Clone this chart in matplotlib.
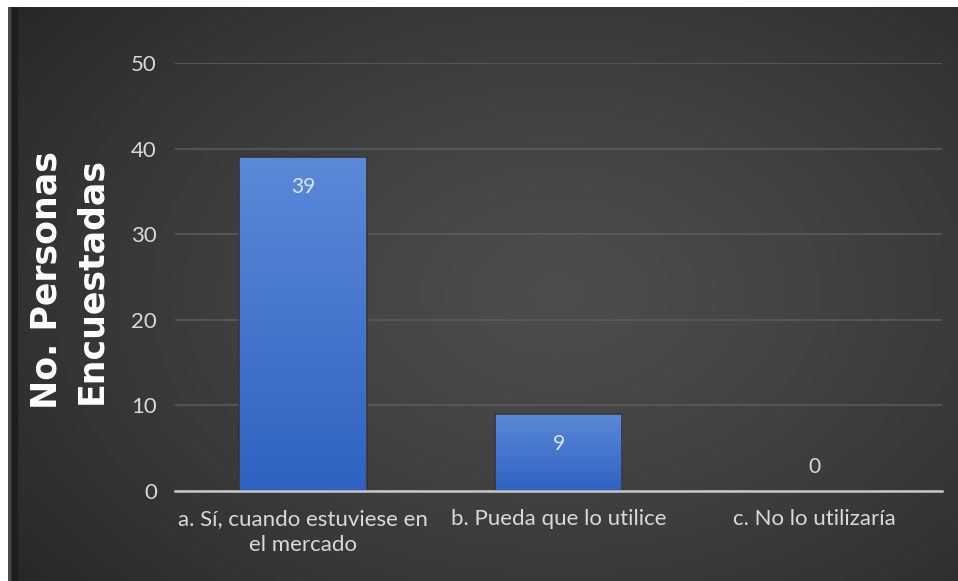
import matplotlib.pyplot as plt
import numpy as np
from matplotlib.patches import Rectangle

# DATOS
categorias = ["a. Sí, cuando estuviese en\nel mercado", "b. Pueda que lo utilice", "c. No lo utilizaría"]
valores = [39, 9, 0]
ticks_y = [0, 10, 20, 30, 40, 50]
etiqueta_y = "No. Personas\nEncuestadas"

W, H = 958, 581
fig = plt.figure(figsize=(W / 100, H / 100), dpi=100)
fig.patch.set_facecolor("white")

# fondo oscuro con degradado radial
fondo = fig.add_axes([8 / W, 0, (W - 8) / W, (H - 7) / H])
fondo.set_axis_off()
yy, xx = np.mgrid[0:1:300j, 0:1:500j]
d = np.sqrt(((xx - 0.58) / 0.75) ** 2 + ((yy - 0.5) / 0.85) ** 2)
d = np.clip(d, 0, 1)
gris = 0.30 - 0.15 * d ** 1.3
fondo.imshow(np.dstack([gris, gris, gris]), aspect="auto", extent=[0, 1, 0, 1])
fondo.add_patch(Rectangle((0, 0), 0.009, 1, color="#1f1f1f", transform=fondo.transAxes))
fondo.add_patch(Rectangle((0, 0), 0.002, 1, color="#4a4a4a", transform=fondo.transAxes))

# GRAFICO
ax = fig.add_axes([175 / W, 90 / H, 767 / W, 428 / H])
ax.patch.set_alpha(0)
x = np.arange(len(categorias))
barras = ax.bar(x, valores, width=0.5, color="none", edgecolor="#3b3434", linewidth=1.2, zorder=3)

grad = np.linspace(0, 1, 256).reshape(-1, 1)
top = np.array([0x5c, 0x89, 0xd8]) / 255
bot = np.array([0x2f, 0x62, 0xc2]) / 255
img = top * (1 - grad[..., None]) + bot * grad[..., None]
img = img.reshape(256, 1, 3)
for b in barras:
    if b.get_height() <= 0:
        continue
    im = ax.imshow(img, aspect="auto", zorder=2,
                   extent=[b.get_x(), b.get_x() + b.get_width(), 0, b.get_height()])
    im.set_clip_path(b)

for xi, v in zip(x, valores):
    off = -30 if v > 0 else 24
    ax.annotate(str(v), (xi, v), xytext=(0, off), textcoords="offset pixels",
                ha="center", va="center", color="#dce3f2" if v > 0 else "#d9d9d9",
                fontsize=15, family="Lato", zorder=4)

ax.set_xlim(-0.5, 2.5)
ax.set_ylim(0, 50)
ax.set_yticks(ticks_y)
ax.set_xticks(x)
ax.set_xticklabels(categorias, fontsize=16, color="#d9d9d9", family="Lato", linespacing=1.4)
ax.tick_params(axis="y", labelsize=16, labelcolor="#d9d9d9", length=0, pad=13)
ax.tick_params(axis="x", length=0, pad=13)
for t in ax.get_yticklabels():
    t.set_family("Lato")
ax.grid(axis="y", color="#5a5a5a", linewidth=1.2, zorder=0)
ax.set_axisbelow(True)
for s in ["top", "right", "left"]:
    ax.spines[s].set_visible(False)
ax.spines["bottom"].set_color("#c8c8c8")
ax.spines["bottom"].set_linewidth(1.8)
ax.spines["bottom"].set_zorder(5)

fig.text(69 / W, 1 - 280 / H, etiqueta_y, rotation=90, ha="center", va="center",
         fontsize=25, fontweight="bold", color="white", family="DejaVu Sans", linespacing=1.4)

fig.savefig("out.png", dpi=100, facecolor=fig.get_facecolor())
